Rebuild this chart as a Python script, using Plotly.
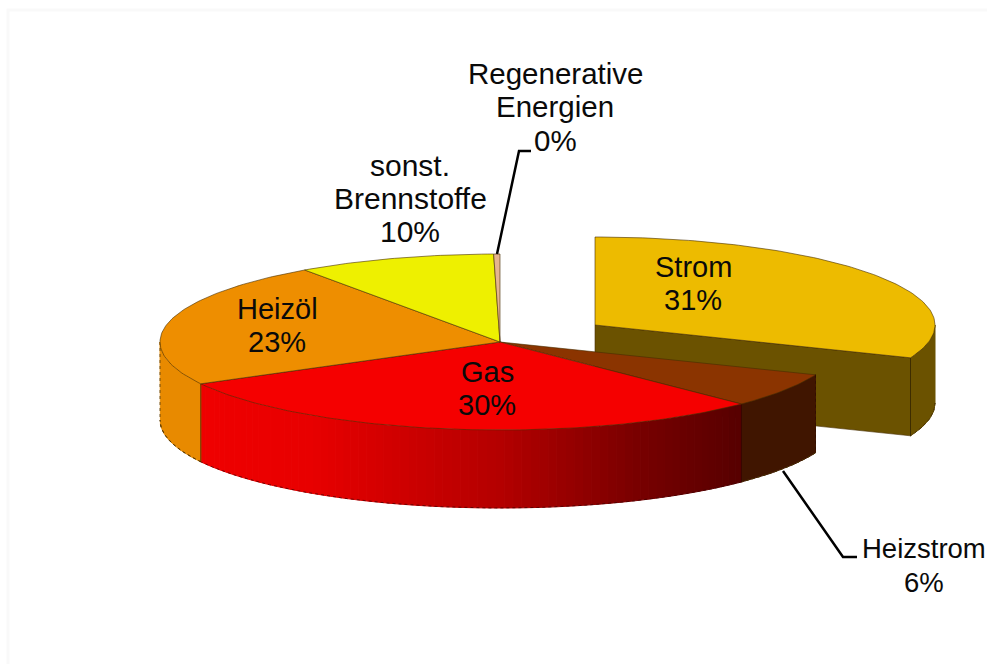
import numpy as np
import plotly.graph_objects as go

categories = ["Strom", "Heizstrom", "Gas", "Heizöl", "sonst. Brennstoffe", "Regenerative Energien"]
values = [31.3, 6.4, 29.9, 23.3, 9.51, 0.3]
top_colors = ["#EDBB00", "#8B3400", "#F50000", "#EE8E00", "#EEF000", "#E5B48E"]
wall_colors = ["#6B5200", "#401500", "#F00000", "#E88A00", "#C8CA00", "#B08A60"]

# label layout: one entry per category, (centre x, [line centre y ...], [name lines], font size)
label_layout = [
    (693, [267, 300], ["Strom"], 29),
    (924, [548, 582], ["Heizstrom"], 27.5),
    (487, [372, 405], ["Gas"], 29),
    (277, [309, 342], ["Heizöl"], 29),
    (410, [165, 198, 231], ["sonst.", "Brennstoffe"], 30),
    (555, [73, 106, 140], ["Regenerative", "Energien"], 29.5),
]

CX, CY, RX, RY, DEPTH = 500.0, 342.0, 340.0, 88.0, 78.0
PULL = (95.0, -17.0)
EDGE = "rgba(70,45,0,0.75)"

edges = np.concatenate([[0.0], np.cumsum(values)]) / np.sum(values) * 360.0


def arc(a0, a1, dx=0.0, dy=0.0, n=None):
    n = n or max(2, int(abs(a1 - a0)) + 2)
    t = np.radians(np.linspace(a0, a1, n))
    return CX + dx + RX * np.sin(t), CY + dy - RY * np.cos(t)


def poly(fig, x, y, fill, line=None, width=1.0):
    fig.add_trace(go.Scatter(
        x=list(x) + [x[0]], y=list(y) + [y[0]], mode="lines", fill="toself",
        fillcolor=fill, line=dict(color=line or fill, width=width),
        hoverinfo="skip", showlegend=False))


def stroke(fig, x, y, color=EDGE, width=1.0, dash=None):
    fig.add_trace(go.Scatter(
        x=list(x), y=list(y), mode="lines",
        line=dict(color=color, width=width, dash=dash),
        hoverinfo="skip", showlegend=False))


def wall(fig, a0, a1, dx, dy, color):
    x, y = arc(a0, a1, dx, dy)
    poly(fig, np.r_[x, x[::-1]], np.r_[y, y[::-1] + DEPTH], color)
    stroke(fig, np.r_[x, x[::-1]], np.r_[y + DEPTH, y[::-1] + DEPTH], EDGE, 1, "dot")


def top(fig, a0, a1, dx, dy, color):
    x, y = arc(a0, a1, dx, dy)
    poly(fig, np.r_[CX + dx, x], np.r_[CY + dy, y], color, EDGE, 0.8)


def gas_shade(x):
    r = np.interp(x, [198, 310, 500, 640, 738], [240, 232, 180, 120, 88])
    return f"rgb({int(r)},0,0)"


fig = go.Figure()

# Pulled-out slice first: it sits behind the rest of the pie
dx, dy = PULL
a0, a1 = edges[0], edges[1]
xe, ye = arc(a1, a1, dx, dy, 2)
cut_x = [CX + dx, xe[0], xe[0], CX + dx]
cut_y = [CY + dy, ye[0], ye[0] + DEPTH, CY + dy + DEPTH]
poly(fig, cut_x, cut_y, wall_colors[0], EDGE, 0.8)
wall(fig, 90, a1, dx, dy, wall_colors[0])
stroke(fig, [xe[0], xe[0]], [ye[0], ye[0] + DEPTH], "rgba(50,35,0,0.8)", 1)
top(fig, a0, a1, dx, dy, top_colors[0])

# Front walls of the remaining slices
wall(fig, edges[1], edges[2], 0, 0, wall_colors[1])
ag = np.linspace(edges[2], edges[3], 73)
for s, e in zip(ag[:-1], ag[1:]):
    xm, _ = arc((s + e) / 2, (s + e) / 2, n=2)
    x, y = arc(s, e, n=3)
    poly(fig, np.r_[x, x[::-1]], np.r_[y, y[::-1] + DEPTH], gas_shade(xm[0]))
xg, yg = arc(edges[2], edges[3])
stroke(fig, xg, yg + DEPTH, "rgba(60,0,0,0.7)", 1, "dot")
wall(fig, edges[3], 270, 0, 0, wall_colors[3])
for a in (edges[2], edges[3]):
    xa, ya = arc(a, a, n=2)
    stroke(fig, [xa[0], xa[0]], [ya[0], ya[0] + DEPTH], "rgba(40,10,0,0.7)", 1)
xr, yr = arc(edges[1], edges[1], n=2)
stroke(fig, [xr[0], xr[0]], [yr[0], yr[0] + DEPTH], "rgba(40,10,0,0.6)", 1, "dot")
xl, yl = arc(270, 270, n=2)
stroke(fig, [xl[0], xl[0]], [yl[0], yl[0] + DEPTH], EDGE, 1, "dot")

# Top faces
for i in range(1, len(values)):
    top(fig, edges[i], edges[i + 1], 0, 0, top_colors[i])

# Leader lines
stroke(fig, [497, 519, 531], [254, 151, 151], "#000000", 2.5)
stroke(fig, [783, 843, 857], [471, 557, 557], "#000000", 2.5)

# Labels
annotations = []
for v, layout_row in zip(values, label_layout):
    xc, ys, lines, size = layout_row
    for text, yc in zip(lines + [f"{round(v)}%"], ys):
        annotations.append(dict(
            x=xc, y=yc, xref="x", yref="y", text=text, showarrow=False,
            xanchor="center", yanchor="middle",
            font=dict(family="Liberation Sans, Arial, sans-serif", size=size, color="#0a0a0a")))

fig.update_layout(
    width=987, height=664, margin=dict(l=0, r=0, t=0, b=0),
    paper_bgcolor="#ffffff", plot_bgcolor="#ffffff", showlegend=False,
    xaxis=dict(range=[0, 987], visible=False, fixedrange=True),
    yaxis=dict(range=[664, 0], visible=False, fixedrange=True),
    annotations=annotations,
    shapes=[dict(type="rect", x0=8, y0=10, x1=1000, y1=680,
                 line=dict(color="#f9f9f9", width=3), layer="below")],
)
fig.write_html("out.html", config={"displayModeBar": False},
               post_script="document.body.style.margin='0';document.documentElement.style.overflow='hidden';")
